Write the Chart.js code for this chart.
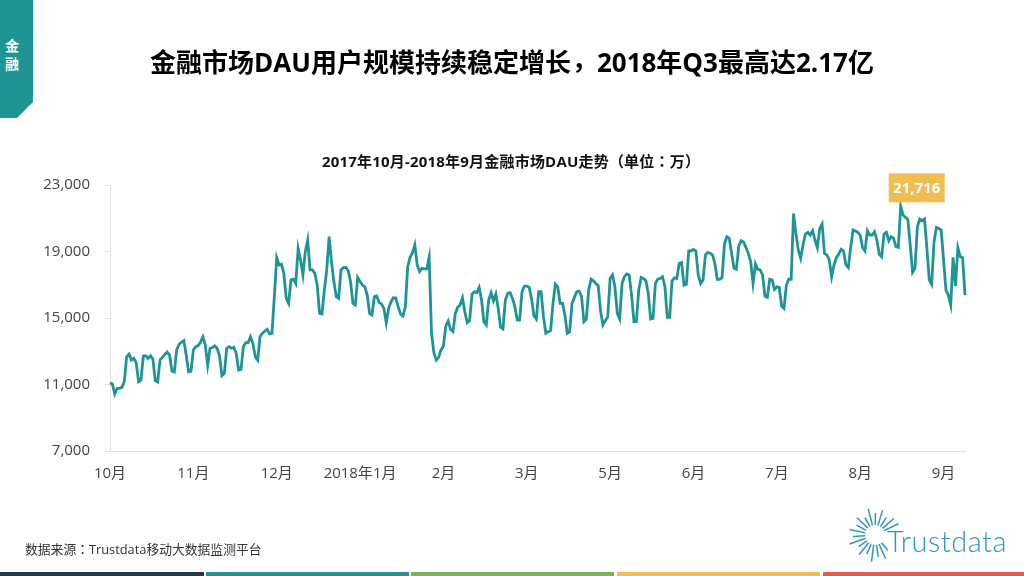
<!DOCTYPE html>
<html>
<head>
<meta charset="utf-8">
<title>金融市场DAU</title>
<script src="https://cdn.jsdelivr.net/npm/chart.js@4"></script>
<style>
  html, body { margin: 0; padding: 0; background: #fff; }
  body { position: relative; width: 1024px; height: 576px; overflow: hidden;
         font-family: "Open Sans", "Noto Sans CJK SC", sans-serif; }
  #chart { position: absolute; left: 0; top: 0; }
  .tab { position: absolute; left: 0; top: 0; width: 33px; height: 118px; background: #1e9594;
         clip-path: polygon(0 0, 100% 0, 100% 102px, 17px 100%, 0 100%); }
  .tab div { position: absolute; left: 0; width: 24px; text-align: center; color: #fff;
             font: bold 14px "Noto Sans CJK SC"; line-height: 20px; }
  .title { position: absolute; left: 0; top: 42px; width: 1024px; text-align: center; color: #000;
           font: bold 26px "Open Sans", "Noto Sans CJK SC"; line-height: 38px; }
  .sub { position: absolute; left: 0; top: 150px; width: 1022px; text-align: center; color: #111;
         font: bold 15px "Open Sans", "Noto Sans CJK SC"; letter-spacing: 0.2px; line-height: 22px; }
  .source { position: absolute; left: 25px; top: 540px; color: #333;
            font: 12.8px "Open Sans", "Noto Sans CJK SC"; line-height: 18px; }
  .logo { position: absolute; left: 846px; top: 506px; }
  .strip { position: absolute; top: 572px; height: 4px; }
  /* centred full-width punctuation */
  .p { font-family: "Noto Sans CJK TC"; }
  .comma { position: relative; left: -5px; top: 5px; }
</style>
</head>
<body>
<canvas id="chart" width="1024" height="576"></canvas>
<div class="tab"><div style="top:35px">金</div><div style="top:53px">融</div></div>
<div class="title">金融市场DAU用户规模持续稳定增长<span class="p comma">，</span>2018年Q3最高达2.17亿</div>
<div class="sub">2017年10月-2018年9月金融市场DAU走势<span class="p">（</span>单位<span class="p">：</span>万<span class="p">）</span></div>
<div class="source">数据来源<span class="p">：</span>Trustdata移动大数据监测平台</div>
<svg class="logo" width="170" height="58" id="logo">
  <text x="41" y="46" font-family="Lato, 'Open Sans'" font-weight="300" font-size="29" letter-spacing="0.5" fill="#2f94c4">Trustdata</text>
</svg>
<div class="strip" style="left:0;width:204px;background:#22384a"></div>
<div class="strip" style="left:206px;width:203px;background:#1e9594"></div>
<div class="strip" style="left:411px;width:203px;background:#7bb354"></div>
<div class="strip" style="left:617px;width:203px;background:#f6bd53"></div>
<div class="strip" style="left:823px;width:201px;background:#ea5b4b"></div>
<script>
"use strict";

// Daily DAU (unit: 10k)
const dauValues = [
  11110, 11030, 10430, 10770, 10770, 10830, 11170, 12670, 12830, 12470, 12570, 12310, 11170, 11270,
  12710, 12730, 12570, 12730, 12530, 11230, 11150, 12470, 12630, 12810, 12950, 12770, 11810, 11750,
  13080, 13420, 13540, 13640, 12770, 11770, 11810, 13080, 13280, 13340, 13540, 13880, 13380, 12170,
  13180, 13220, 13320, 13180, 12710, 11530, 11670, 13180, 13280, 13180, 13240, 12870, 11870, 11910,
  13280, 13520, 13520, 13880, 13480, 12670, 12470, 13880, 14080, 14220, 14320, 14040, 14080, 16280,
  18630, 18190, 18230, 17690, 16180, 15880, 17290, 17330, 17080, 19190, 18490, 17590, 18990, 19690,
  17890, 17890, 17690, 16980, 15280, 15240, 16680, 17890, 19890, 18390, 17190, 16280, 16180, 17890,
  18030, 18050, 17850, 17190, 15880, 15780, 17440, 17190, 16980, 16880, 16380, 15280, 15180, 16280,
  16320, 15940, 15840, 15580, 14720, 15580, 15980, 16220, 16200, 15680, 15240, 15120, 15680, 18090,
  18650, 18930, 19390, 18190, 17790, 17990, 17950, 17950, 18650, 14080, 12910, 12470, 12630, 13080,
  13320, 14520, 14820, 14320, 14180, 15280, 15640, 15780, 16220, 15380, 14720, 14840, 16420, 16580,
  16520, 16840, 16080, 14780, 14580, 16080, 16520, 16040, 16440, 15580, 14440, 14340, 16080, 16480,
  16520, 16180, 15680, 14880, 14880, 16580, 16920, 16920, 16840, 16180, 15140, 14940, 16580, 16580,
  15080, 14080, 14180, 14240, 15880, 17040, 16880, 15880, 15880, 15180, 14080, 14180, 15880, 16240,
  16580, 16620, 16280, 14780, 14940, 16680, 17340, 17240, 17080, 16940, 15380, 14580, 14840, 15080,
  17380, 17600, 16880, 15280, 14940, 17080, 17480, 17650, 17590, 16380, 14780, 14780, 16680, 17440,
  17380, 17240, 16480, 14940, 14980, 17080, 17340, 17380, 17480, 16880, 15040, 15040, 17240, 17420,
  17380, 18290, 18330, 16980, 17020, 19030, 19030, 19130, 19030, 17590, 17080, 17290, 18790, 18950,
  18890, 18790, 18250, 17330, 17330, 17440, 19450, 19890, 19790, 18890, 17990, 17930, 19330, 19650,
  19570, 19250, 18890, 18390, 17080, 18250, 17930, 17890, 17590, 16320, 16240, 17330, 17290, 16720,
  16880, 16840, 15720, 15580, 16980, 17340, 17330, 21290, 20090, 19090, 18590, 19390, 20050, 20150,
  19990, 20250, 19690, 19230, 20390, 20650, 18890, 18790, 18490, 17480, 18190, 18630, 18850, 19130,
  19030, 18190, 18030, 19250, 20290, 20230, 20150, 19990, 19230, 19030, 20250, 19990, 19990, 20190,
  19690, 18830, 18690, 20050, 20150, 19650, 19890, 19790, 19290, 19250, 21716, 21190, 21050, 20930,
  19390, 17750, 17990, 20490, 20950, 20850, 20950, 19190, 17290, 17020, 19590, 20450, 20390, 20290,
  18490, 16680, 16380, 15780, 18650, 16920, 19230, 18690, 18630, 16380
];
const monthLabels = ["10月", "11月", "12月", "2018年1月", "2月", "3月", "5月", "6月", "7月", "8月", "9月"];
const yTicks = [7000, 11000, 15000, 19000, 23000];
const labelStep = 35; // days between two month labels on the axis

const categories = dauValues.map((_, i) =>
  i % labelStep === 0 ? monthLabels[i / labelStep] : ""
);

// Orange callout above the highest day
const peakLabel = {
  id: "peakLabel",
  afterDatasetsDraw(chart) {
    const { ctx, scales } = chart;
    const peak = Math.max(...dauValues);
    const px = scales.x.getPixelForValue(dauValues.indexOf(peak));
    const py = scales.y.getPixelForValue(peak);
    const w = 56;
    const h = 29;
    const left = px - 12;
    const top = py - 33;
    ctx.save();
    ctx.fillStyle = "#f0bd50";
    ctx.fillRect(left, top, w, h);
    ctx.fillStyle = "#fff";
    ctx.font = "bold 15px 'Open Sans'";
    ctx.textAlign = "center";
    ctx.textBaseline = "middle";
    ctx.fillText(peak.toLocaleString("en-US"), left + w / 2, top + h / 2 + 1);
    ctx.restore();
  }
};

new Chart(document.getElementById("chart"), {
  type: "line",
  data: {
    labels: categories,
    datasets: [{
      data: dauValues,
      borderColor: "#1e9594",
      borderWidth: 2.8,
      pointRadius: 0,
      tension: 0,
      clip: false
    }]
  },
  plugins: [peakLabel],
  options: {
    responsive: false,
    animation: false,
    layout: { padding: { left: 0, right: 59, top: 185, bottom: 0 } },
    plugins: { legend: { display: false }, tooltip: { enabled: false } },
    scales: {
      x: {
        offset: false,
        grid: { display: false },
        border: { color: "#e0e0e0" },
        afterFit(scale) { scale.height = 125; },
        ticks: {
          autoSkip: false,
          maxRotation: 0,
          padding: 6,
          color: "#444",
          font: { family: "'Open Sans','Noto Sans CJK SC'", size: 15 },
          callback(value, i) {
            return i % labelStep === 0 ? monthLabels[i / labelStep] : null;
          }
        }
      },
      y: {
        min: 7000,
        max: 23000,
        afterFit(scale) { scale.width = 110; },
        afterBuildTicks(scale) { scale.ticks = yTicks.map((value) => ({ value })); },
        grid: { drawOnChartArea: false, drawTicks: true, tickLength: 5, color: "#e0e0e0" },
        border: { color: "#e0e0e0" },
        ticks: {
          padding: 15,
          color: "#444",
          font: { family: "'Open Sans'", size: 15 },
          callback: (v) => v.toLocaleString("en-US")
        }
      }
    }
  }
});

// Trustdata sunburst, rays all round except where the word starts
const logo = document.getElementById("logo");
const rayOuter = [20, 26, 22, 27, 21, 25, 20, 27, 22, 26, 21, 25, 20, 27, 22, 26, 21, 25, 26];
rayOuter.forEach((outer, i) => {
  const a = (50 + i * 15.8) * Math.PI / 180;
  const inner = 10;
  const line = document.createElementNS("http://www.w3.org/2000/svg", "line");
  line.setAttribute("x1", 29 + inner * Math.cos(a));
  line.setAttribute("y1", 29 + inner * Math.sin(a));
  line.setAttribute("x2", 29 + outer * Math.cos(a));
  line.setAttribute("y2", 29 + outer * Math.sin(a));
  line.setAttribute("stroke", "#2f94c4");
  line.setAttribute("stroke-width", "1.5");
  logo.appendChild(line);
});
</script>
</body>
</html>
